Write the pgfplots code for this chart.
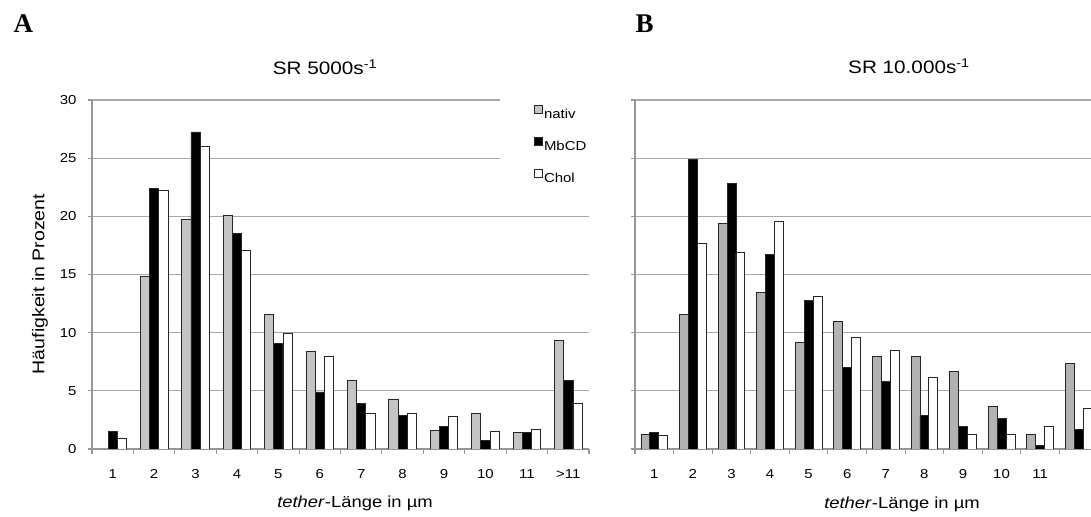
\documentclass[border=0pt]{standalone}
\usepackage{fontspec}
\setmainfont{Liberation Sans}[FakeStretch=1.15]
\newfontfamily\tnr{Liberation Serif}
\usepackage{pgfplots}
\usepackage{pgfplotstable}
\pgfplotsset{compat=1.18}

\definecolor{barA}{RGB}{196,196,196}
\definecolor{barB}{RGB}{178,178,178}
\definecolor{axgray}{RGB}{150,150,150}
\definecolor{gridgray}{RGB}{168,168,168}

\pgfplotsset{
  tether/.style={
    scale only axis, height=349bp,
    ymin=0, ymax=30, xmin=0.5, xmax=12.5,
    axis x line*=bottom, axis y line*=left,
    axis line style={axgray, line width=1.1bp},
    ymajorgrids, grid style={gridgray, line width=1.1bp},
    ytick={0,5,...,30},
    xtick={1,...,12},
    major x tick style={draw=none},
    minor xtick={0.5,1.5,...,12.5},
    tick align=outside,
    minor tick length=5bp, major tick length=4bp,
    tick style={axgray, line width=1.1bp},
    ticklabel style={font=\fontsize{13bp}{15bp}\selectfont},
    xticklabel style={yshift=-13bp},
    /pgf/number format/assume math mode=true,
    every axis plot/.append style={draw=black!85, line width=0.8bp},
  },
  legsq/.style={legend image code/.code={\draw[##1, line width=0.8bp] (0bp,2bp) rectangle (8bp,10bp);}},
}

\begin{document}
\pgfplotstableread{
x nativ mbcd chol
2 14.85 22.4  22.2
3 19.75 27.25 26.0
4 20.1  18.55 17.1
5 11.6  9.1   9.9
6 8.4   4.9   8.0
7 5.9   3.9   3.1
8 4.3   2.9   3.1
9 1.6   1.9   2.8
10 3.05 0.7   1.55
11 1.45 1.4   1.7
12 9.35 5.9   3.9
}\tabA
\pgfplotstableread{
x mbcd chol
1 1.55  0.92
}\tabAone
\pgfplotstableread{
x nativ mbcd chol
1 1.26  1.44  1.2
2 11.6  24.9  17.66
3 19.37 22.86 16.86
4 13.45 16.7  19.57
5 9.14  12.76 13.1
6 10.98 7.0   9.63
7 7.93  5.8   8.5
8 7.93  2.87  6.18
9 6.7   1.93  1.24
10 3.7  2.6   1.24
11 1.24 0.3   1.93
12 7.36 1.67  3.48
}\tabB
\begin{tikzpicture}[x=1bp,y=1bp]
\useasboundingbox (0,0) rectangle (1091,517);

\begin{axis}[tether, at={(92bp,68bp)}, anchor=south west, width=497bp,
  ybar=0pt, bar width=9.2bp,
  xticklabels={1,2,3,4,5,6,7,8,9,10,11,{>11}},
  yticklabel style={xshift=-8bp},
  legend style={at={(rel axis cs:0.821,1.012)}, anchor=north west, fill=white, draw=none,
    font=\fontsize{13bp}{15bp}\selectfont, inner xsep=34bp, inner ysep=9bp,
    row sep=15bp, nodes={inner sep=1bp, text height=9bp, text depth=2bp}},
  legend cell align=left]
\addplot[fill=barA, legsq] table[x=x, y=nativ] {\tabA};
\addplot[fill=black, legsq] table[x=x, y=mbcd] {\tabA};
\addplot[fill=white, legsq] table[x=x, y=chol] {\tabA};
\legend{nativ, MbCD, Chol}
\addplot[fill=black, forget plot, bar shift=0bp] table[x=x, y=mbcd] {\tabAone};
\addplot[fill=white, forget plot, bar shift=9.2bp] table[x=x, y=chol] {\tabAone};
\end{axis}

\begin{axis}[tether, at={(635bp,68bp)}, anchor=south west, width=463bp,
  ybar=0pt, bar width=8.9bp, yticklabels={},
  xticklabels={1,2,3,4,5,6,7,8,9,10,11,{}}]
\addplot[fill=barB] table[x=x, y=nativ] {\tabB};
\addplot[fill=black] table[x=x, y=mbcd] {\tabB};
\addplot[fill=white] table[x=x, y=chol] {\tabB};
\end{axis}

\node[anchor=base west, font={\tnr\bfseries\fontsize{27bp}{31bp}\selectfont}] at (10,484) {A};
\node[anchor=base west, font={\tnr\bfseries\fontsize{27bp}{31bp}\selectfont}] at (632,484) {B};
\node[anchor=base, font=\fontsize{18bp}{21bp}\selectfont] at (325,442.5) {SR 5000s\textsuperscript{-1}};
\node[anchor=base, font=\fontsize{18bp}{21bp}\selectfont] at (909,443) {SR 10.000s\textsuperscript{-1}};
\node[rotate=90, font=\fontsize{17bp}{20bp}\selectfont] at (40,233) {Häufigkeit in Prozent};
\node[anchor=base, font=\fontsize{16bp}{19bp}\selectfont] at (355,9.5) {\textit{tether}-Länge in µm};
\node[anchor=base, font=\fontsize{16bp}{19bp}\selectfont] at (902,8) {\textit{tether}-Länge in µm};
\end{tikzpicture}
\end{document}
